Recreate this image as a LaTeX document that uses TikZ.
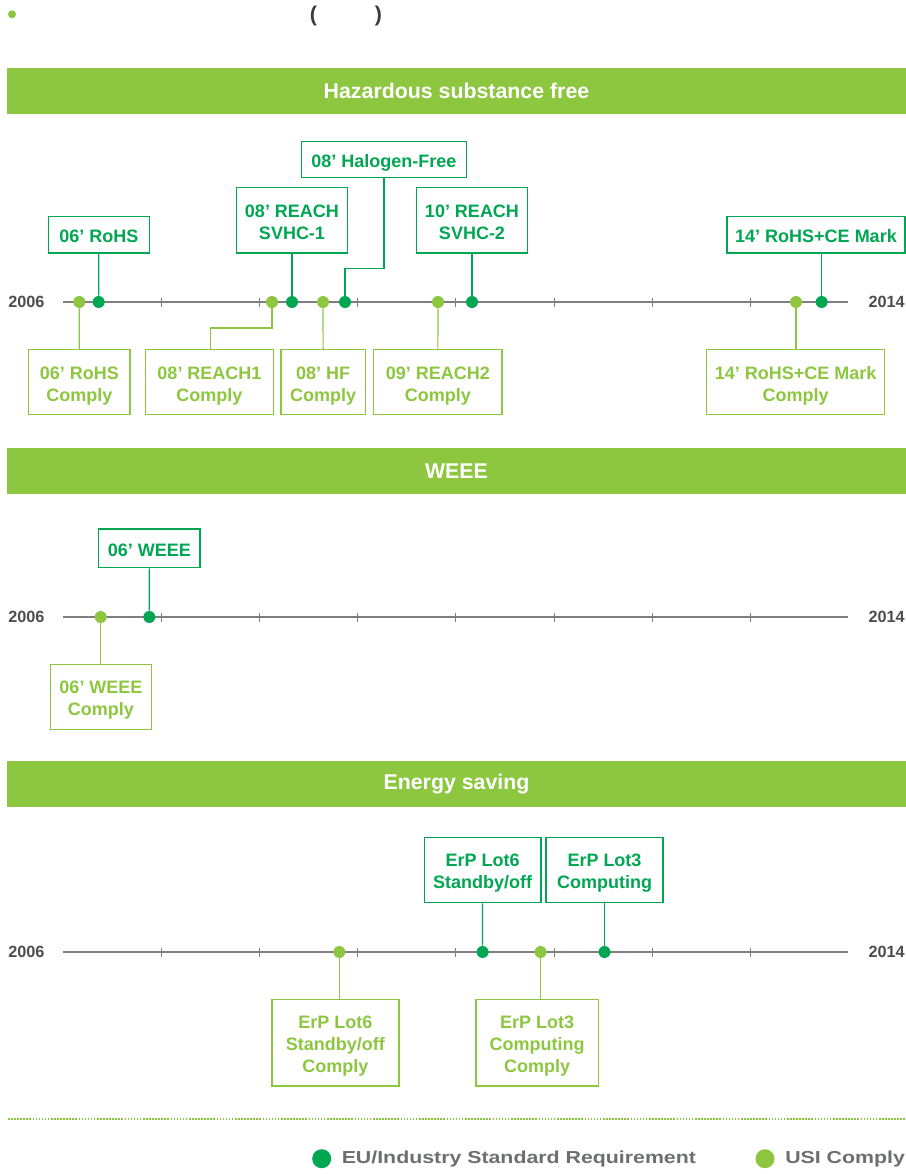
\documentclass[tikz,border=0pt]{standalone}
\usepackage{fontspec}
\setmainfont{Liberation Sans}
\usepackage{graphicx}
\definecolor{dg}{HTML}{00A651}
\definecolor{lg}{HTML}{8DC63F}
\definecolor{axisgray}{HTML}{7F7F7F}
\definecolor{yeargray}{HTML}{4D4D4F}
\definecolor{leggray}{HTML}{6D6E71}
\definecolor{topgray}{HTML}{3C3C3C}
\newcommand{\boxtext}[1]{\raisebox{-2.6pt}[\height][\depth]{\begin{tabular}{@{}c@{}}#1\end{tabular}}}
\begin{document}
\begin{tikzpicture}[x=0.75pt,y=-0.75pt,
  wh/.style 2 args={minimum width=#1*0.75pt, minimum height=#2*0.75pt},
  boxbase/.style={line width=0.9pt, inner sep=0pt,
    font=\bfseries\fontsize{13.5}{16.5}\selectfont},
  eubox/.style={boxbase, draw=dg, text=dg},
  usibox/.style={boxbase, draw=lg, text=lg},
  eudot/.style={circle, fill=dg, inner sep=0pt, minimum size=9pt},
  usidot/.style={circle, fill=lg, inner sep=0pt, minimum size=9pt},
  eulink/.style={draw=dg, line width=0.9pt},
  usilink/.style={draw=lg, line width=0.9pt},
  axisline/.style={draw=axisgray, line width=1.1pt},
  tickmark/.style={draw=axisgray, line width=0.6pt},
  year/.style={text=yeargray, inner sep=0pt, font=\bfseries\fontsize{12.2}{14}\selectfont},
  header/.style={fill=lg, inner sep=0pt, text=white, font=\bfseries\fontsize{16}{19}\selectfont},
  legdot/.style={circle, inner sep=0pt, minimum size=14.25pt},
  legtext/.style={anchor=west, inner sep=0pt, text=leggray, font=\bfseries\fontsize{13}{15}\selectfont},
]
\useasboundingbox (0,0) rectangle (906,1174);

% ---- top line ----
\node[circle, fill=lg, inner sep=0pt, minimum size=6pt] (bullet) at (12,14.3) {};
\node[text=topgray, inner sep=0pt, font=\bfseries\fontsize{16}{19}\selectfont] (lpar) at (313.5,16) {(};
\node[text=topgray, inner sep=0pt, font=\bfseries\fontsize{16}{19}\selectfont] (rpar) at (378.5,16) {)};

% ---- headers ----
\node[header, wh={899}{45.7}] (h1) at (456.5,90.85) {Hazardous substance free};
\node[header, wh={899}{45.7}] (h2) at (456.5,470.85) {WEEE};
\node[header, wh={899}{45.7}] (h3) at (456.5,783.85) {Energy saving};

% ---- timelines ----
\foreach \Y/\n in {302/1, 617/2, 952/3}{
  \node[year, anchor=west] (ys\n) at (8,\Y) {2006};
  \node[year, anchor=east] (ye\n) at (905,\Y) {2014};
  \coordinate (as\n) at (63,\Y);
  \coordinate (ae\n) at (848,\Y);
  \draw[axisline] (as\n) -- (ae\n);
  \foreach \k in {1,...,7}{
    \draw[tickmark] (63.4+98.1*\k,\Y-4.5) -- (63.4+98.1*\k,\Y+4.5);
  }
}

% ---- section 1: Hazardous substance free ----
\node[usidot] (d1a) at (79.3,302) {};
\node[eudot]  (d1b) at (98.7,302) {};
\node[usidot] (d1c) at (272,302) {};
\node[eudot]  (d1d) at (292,302) {};
\node[usidot] (d1e) at (323,302) {};
\node[eudot]  (d1f) at (345,302) {};
\node[usidot] (d1g) at (438,302) {};
\node[eudot]  (d1h) at (472,302) {};
\node[usidot] (d1i) at (796,302) {};
\node[eudot]  (d1j) at (821.7,302) {};

\node[eubox, wh={101}{36.3}]    (b1rohs)   at (98.8,234.85) {\boxtext{06’ RoHS}};
\node[eubox, wh={111.4}{65.3}]  (b1reach1) at (292,220.35)  {\boxtext{08’ REACH\\SVHC-1}};
\node[eubox, wh={164.6}{36}]    (b1hf)     at (384,159.7)   {\boxtext{08’ Halogen-Free}};
\node[eubox, wh={111.4}{65.3}]  (b1reach2) at (472,220.35)  {\boxtext{10’ REACH\\SVHC-2}};
\node[eubox, wh={178}{36.3}]    (b1ce)     at (816,234.85)  {\boxtext{14’ RoHS+CE Mark}};

\coordinate (k1) at (384,268.3);
\coordinate (k2) at (272,328);
\draw[eulink] (b1rohs.south) -- (d1b);
\draw[eulink] (b1reach1.south) -- (d1d);
\draw[eulink] (b1hf.south) -- (k1) -| (d1f);
\draw[eulink] (b1reach2.south) -- (d1h);
\draw[eulink] (d1j |- b1ce.south) -- (d1j);

\node[usibox, wh={101.3}{65}] (c1rohs)   at (79.35,382.2)  {\boxtext{06’ RoHS\\Comply}};
\node[usibox, wh={127.6}{65}] (c1reach1) at (209.5,382.2)  {\boxtext{08’ REACH1\\Comply}};
\node[usibox, wh={84.3}{65}]  (c1hf)     at (323.15,382.2) {\boxtext{08’ HF\\Comply}};
\node[usibox, wh={128.3}{65}] (c1reach2) at (437.85,382.2) {\boxtext{09’ REACH2\\Comply}};
\node[usibox, wh={178}{65}]   (c1ce)     at (795.7,382.2)  {\boxtext{14’ RoHS+CE Mark\\Comply}};

\draw[usilink] (d1a) -- (c1rohs.north);
\draw[usilink] (d1c) -- (k2) -| ([xshift=0.6pt]c1reach1.north);
\draw[usilink] (d1e) -- (c1hf.north);
\draw[usilink] (d1g) -- (c1reach2.north);
\draw[usilink] (d1i) -- (d1i |- c1ce.north);

% ---- section 2: WEEE ----
\node[usidot] (d2a) at (100.7,617) {};
\node[eudot]  (d2b) at (149.3,617) {};
\node[eubox, wh={101.3}{38.7}]  (b2weee) at (149.35,548.35) {\boxtext{06’ WEEE}};
\node[usibox, wh={101.4}{65.4}] (c2weee) at (101,697) {\boxtext{06’ WEEE\\Comply}};
\draw[eulink] (b2weee.south) -- (d2b);
\draw[usilink] (d2a) -- (d2a |- c2weee.north);

% ---- section 3: Energy saving ----
\node[usidot] (d3a) at (339.3,952) {};
\node[eudot]  (d3b) at (482.6,952) {};
\node[usidot] (d3c) at (540.6,952) {};
\node[eudot]  (d3d) at (604.5,952) {};
\node[eubox, wh={116.9}{65.4}]  (b3lot6) at (482.55,870) {\boxtext{ErP Lot6\\Standby/off}};
\node[eubox, wh={117}{65.4}]    (b3lot3) at (604.5,870)  {\boxtext{ErP Lot3\\Computing}};
\node[usibox, wh={127.1}{86.7}] (c3lot6) at (335.45,1042.65) {\boxtext{ErP Lot6\\Standby/off\\Comply}};
\node[usibox, wh={122.3}{86.7}] (c3lot3) at (537.05,1042.65) {\boxtext{ErP Lot3\\Computing\\Comply}};
\draw[eulink] (b3lot6.south) -- (d3b);
\draw[eulink] (b3lot3.south) -- (d3d);
\draw[usilink] (d3a) -- (d3a |- c3lot6.north);
\draw[usilink] (d3c) -- (d3c |- c3lot3.north);

% ---- legend ----
\coordinate (dl1) at (8,1119);
\coordinate (dl2) at (906,1119);
\draw[lg, line width=1.5pt, dash pattern=on 1.2pt off 1.1pt] (dl1) -- (dl2);
\node[legdot, fill=dg] (lgdot1) at (321.7,1158.7) {};
\node[legtext] (lgtext1) at (341.5,1159.5) {\scalebox{1.23}[1]{EU/Industry Standard Requirement}};
\node[legdot, fill=lg] (lgdot2) at (765,1158.7) {};
\node[legtext] (lgtext2) at (785,1159.5) {\scalebox{1.23}[1]{USI Comply}};
\end{tikzpicture}
\end{document}
